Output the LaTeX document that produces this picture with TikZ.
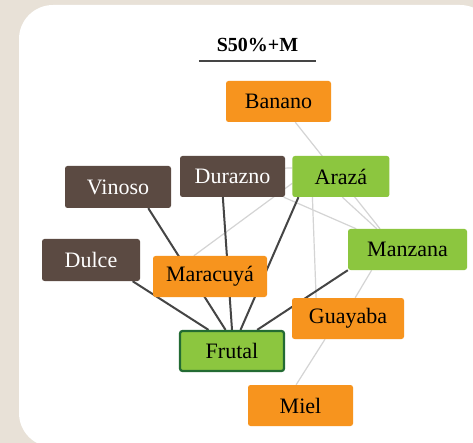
\documentclass[tikz,border=0pt]{standalone}
\usepackage{fontspec}
\setmainfont{Liberation Serif}
\usetikzlibrary{positioning,backgrounds}
\definecolor{naranja}{HTML}{F7941E}
\definecolor{verde}{HTML}{8CC63F}
\definecolor{marron}{HTML}{5B4A42}
\definecolor{verdeosc}{HTML}{236B33}
\definecolor{fondo}{HTML}{E8E1D7}
\definecolor{oscuro}{HTML}{454545}
\definecolor{claro}{HTML}{D4D4D4}
\tikzset{
  caja/.style={rounded corners=2.5pt, minimum height=41pt, minimum width=105pt, inner sep=0pt, font=\fontsize{22}{24}\selectfont},
  naranjabox/.style={caja, fill=naranja},
  verdebox/.style={caja, fill=verde},
  marronbox/.style={caja, fill=marron, text=white},
  fuerte/.style={oscuro, line width=2pt},
  debil/.style={claro, line width=1.2pt}
}

\begin{document}
\begin{tikzpicture}[x=1pt,y=-1pt]
\useasboundingbox (0,0) rectangle (473,443);
\node [font=\bfseries\fontsize{20}{22}\selectfont, minimum width=117pt, minimum height=32pt, inner sep=0pt] (titulo) at (257.5,45) {S50\%+M};
\node [naranjabox] (banano) at (278.5,101.5) {Banano};
\node [marronbox] (durazno) at (232.5,176.5) {Durazno};
\node [verdebox, minimum width=97pt, right=7pt of durazno] (araza) {Arazá};
\node [marronbox, minimum width=106pt, minimum height=42pt] (vinoso) at (118,187) {Vinoso};
\node [verdebox, minimum width=119pt] (manzana) at (407.5,249.5) {Manzana};
\node [marronbox, minimum width=98pt, minimum height=42pt] (dulce) at (91,260) {Dulce};
\node [naranjabox, minimum width=114pt] (maracuya) at (210,276.5) {Maracuyá};
\node [naranjabox, minimum width=112pt] (guayaba) at (348,318.5) {Guayaba};
\node [verdebox, draw=verdeosc, line width=2.2pt, minimum width=104pt, minimum height=40pt] (frutal) at (232,351) {Frutal};
\node [naranjabox] (miel) at (300.5,405.5) {Miel};
\draw [oscuro, line width=2.5pt] (titulo.south west) -- (titulo.south east);
\begin{pgfonlayer}{background}
\fill [fondo] (0,0) rectangle (473,443);
\fill [white, rounded corners=34pt] (19,5) rectangle (494,447);
\draw [debil] (banano.-51) -- (manzana.143);
\draw [debil] (araza.-86) -- (manzana.146);
\draw [debil] (durazno.-22) -- (manzana.158);
\draw [debil] (durazno.9) -- (araza.170);
\draw [debil] (maracuya.128) -- (araza.-172);
\draw [debil] (araza.-144) -- (guayaba.147);
\draw [debil] (manzana.-150) -- (guayaba.71);
\draw [debil] (guayaba.-138) -- (miel.102);
\draw [fuerte] (dulce.-27) -- (frutal.138);
\draw [fuerte] (vinoso.-35) -- (frutal.107);
\draw [fuerte] (durazno.-115) -- (frutal.90);
\draw [fuerte] (araza.-154) -- (frutal.68);
\draw [fuerte] (manzana.south west) -- (frutal.40);
\end{pgfonlayer}
\end{tikzpicture}
\end{document}
